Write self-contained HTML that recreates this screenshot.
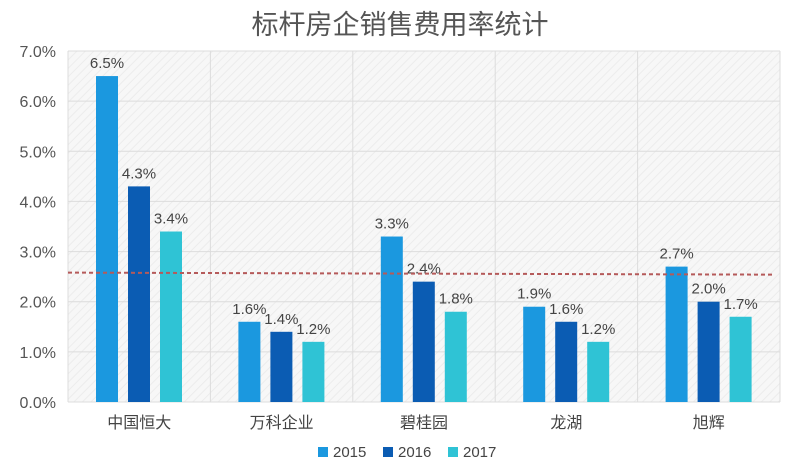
<!DOCTYPE html>
<html><head><meta charset="utf-8"><style>
html,body{margin:0;padding:0;background:#fff;}
svg{display:block;font-family:"Liberation Sans","Noto Sans CJK SC",sans-serif;}
</style></head><body>
<svg id="chart" width="800" height="470">
<defs>
<pattern id="hatch" width="6" height="6" patternUnits="userSpaceOnUse" patternTransform="rotate(45)">
<rect width="6" height="6" fill="#f7f7f7"/><line x1="0" y1="0" x2="0" y2="6" stroke="#ececec" stroke-width="2"/>
</pattern>
</defs>
<text x="400" y="34" text-anchor="middle" font-size="27" fill="#555">标杆房企销售费用率统计</text>
<rect x="68" y="51" width="712" height="351" fill="url(#hatch)"/>
<g id="grid"></g>
<g id="bars"></g>
<g id="labels"></g>
<line id="avg" stroke="#b55a5a" stroke-width="2" stroke-dasharray="4,3"/>
<g id="legend"></g>
</svg>
<script>
const categories=["中国恒大","万科企业","碧桂园","龙湖","旭辉"];
const s2015=[6.5,1.6,3.3,1.9,2.7];
const s2016=[4.3,1.4,2.4,1.6,2.0];
const s2017=[3.4,1.2,1.8,1.2,1.7];
const seriesNames=["2015","2016","2017"];
const yTicks=[0,1,2,3,4,5,6,7];
const avgValue=2.58;
const NS="http://www.w3.org/2000/svg";
const colors=["#1b98df","#0b5cb3","#2fc3d5"];
const x0=68,x1=780,y0=402,yTop=51,ymax=7;
const y=v=>y0-(v/ymax)*(y0-yTop);
const bw=(x1-x0)/categories.length;
function mk(t,a,p){const e=document.createElementNS(NS,t);for(const k in a)e.setAttribute(k,a[k]);p.appendChild(e);return e;}
const grid=document.getElementById('grid');
yTicks.forEach(t=>{
 const l=mk('line',{x1:x0,x2:x1,y1:y(t),y2:y(t),stroke:'#dcdcdc','stroke-width':1},grid);
 
 
 const tx=mk('text',{x:56,y:y(t)+6,'text-anchor':'end','font-size':16,fill:'#555'},grid);
 tx.textContent=t.toFixed(1)+'%';
 
 
});
for(let i=0;i<=categories.length;i++){
 const l=mk('line',{x1:x0+i*bw,x2:x0+i*bw,y1:yTop,y2:y0,stroke:'#dcdcdc','stroke-width':1},grid);
 
 
}
const bars=document.getElementById('bars'),labels=document.getElementById('labels');
const all=[s2015,s2016,s2017];
categories.forEach((c,i)=>{
 all.forEach((s,j)=>{
  const bx=x0+i*bw+28+j*32;
  const r=mk('rect',{x:bx,y:y(s[i]),width:22,height:y0-y(s[i]),fill:colors[j]},bars);
  
  
  const t=mk('text',{x:bx+11,y:y(s[i])-8,'text-anchor':'middle','font-size':15,fill:'#444'},labels);
  t.textContent=s[i].toFixed(1)+'%';
  
  
 });
 const t=mk('text',{x:x0+i*bw+bw/2,y:428,'text-anchor':'middle','font-size':16,fill:'#444'},labels);
 t.textContent=c;
 
 
});
const avg=document.getElementById('avg');
avg.setAttribute('x1',x0);avg.setAttribute('x2',x1-8);
avg.setAttribute('y1',y(avgValue));avg.setAttribute('y2',y(avgValue)+2);
const lg=document.getElementById('legend');
const lx=[318,383,448];
seriesNames.forEach((n,j)=>{
 const r=mk('rect',{x:lx[j],y:447,width:10,height:10,fill:colors[j]},lg);
 
 
 const t=mk('text',{x:lx[j]+15,y:457,'font-size':15,fill:'#444'},lg);
 t.textContent=n;
 
 
});
</script>
</body></html>
